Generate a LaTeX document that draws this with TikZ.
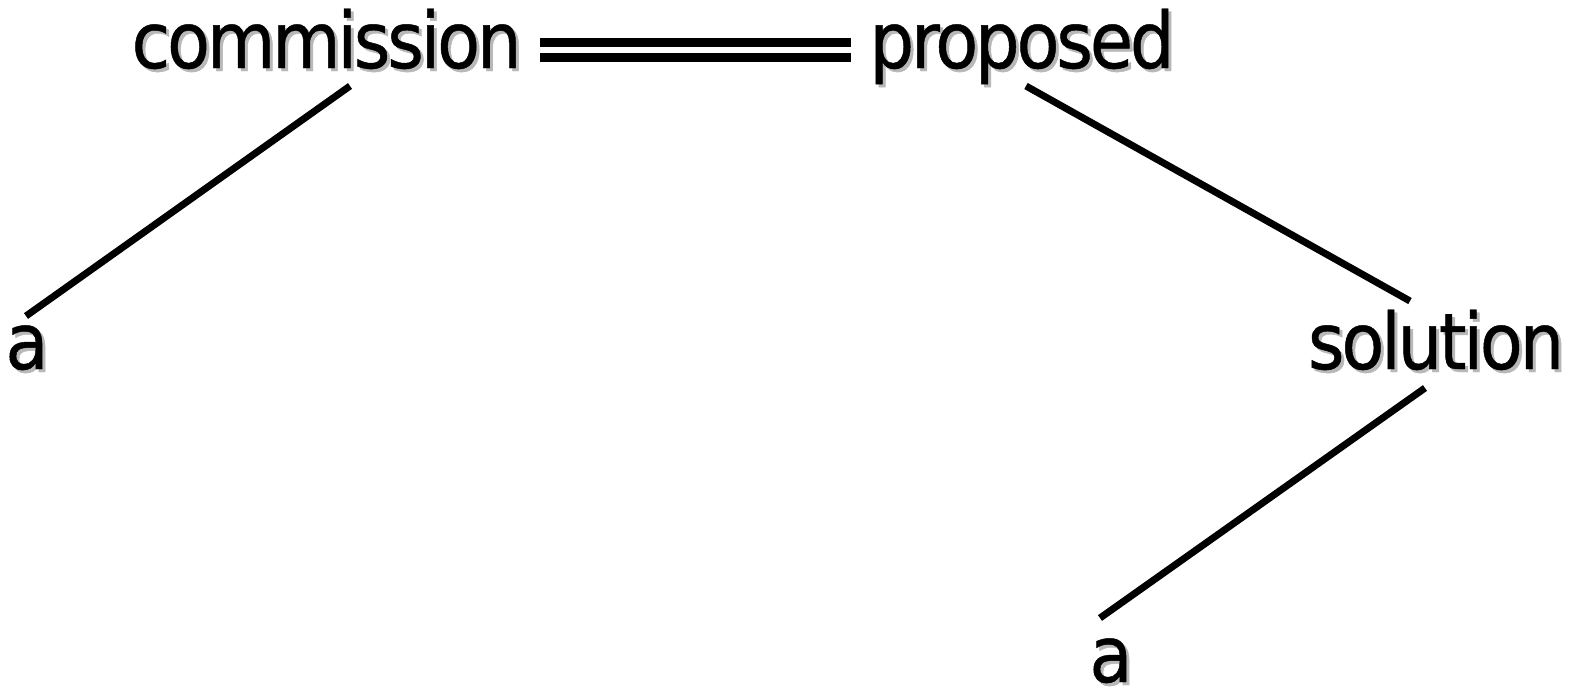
\documentclass[tikz,border=0pt]{standalone}
\usepackage{fontspec}
\setmainfont[FakeStretch=0.9,LetterSpace=-4,FakeBold=0.6]{DejaVu Sans}
\usetikzlibrary{calc}
\definecolor{txtshadow}{gray}{0.72}
\newcommand\shadowed[1]{\makebox[0pt][l]{\kern3pt\lower3pt\hbox{\color{txtshadow}#1}}#1}
\tikzset{
  word/.style={inner sep=0pt, anchor=base, font=\fontsize{78}{80}\selectfont},
  edge/.style={line width=7pt, black},
  rail/.style={line width=8.4pt, black}
}
\begin{document}
\begin{tikzpicture}[x=1pt,y=-1pt]
\useasboundingbox (0,0) rectangle (1583,689);
\node[word] (commission) at (326.5,68) {\shadowed{commission}};
\node[word] (proposed) at (1022,68) {\shadowed{proposed}};
\node[word] (a1) at (27,369) {\shadowed{a}};
\node[word] (solution) at (1436,369) {\shadowed{solution}};
\node[word] (a2) at (1111,682) {\shadowed{a}};
% connector ends
\coordinate (c1s) at (350,86);
\coordinate (c1e) at (26,316);
\coordinate (c2s) at (1026,86);
\coordinate (c2e) at (1410,301);
\coordinate (c3s) at (1425,388);
\coordinate (c3e) at (1100,618);
\coordinate (r1s) at (540,42.5);
\coordinate (r1e) at (851,42.5);
\coordinate (r2s) at (540,57.5);
\coordinate (r2e) at (851,57.5);
\draw[edge] (c1s) -- (c1e);
\draw[edge] (c2s) -- (c2e);
\draw[edge] (c3s) -- (c3e);
\draw[rail] (r1s) -- (r1e);
\draw[rail] (r2s) -- (r2e);
\end{tikzpicture}
\end{document}
